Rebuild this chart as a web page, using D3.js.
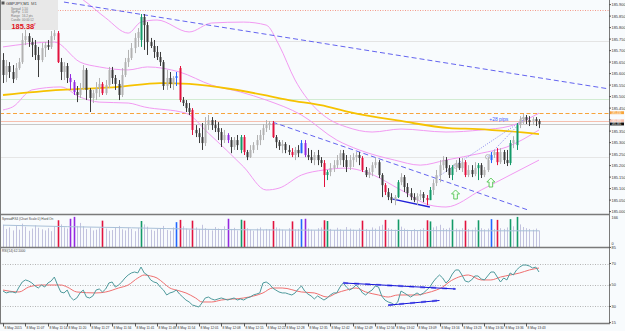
<!DOCTYPE html>
<html>
<head>
<meta charset="utf-8">
<script src="https://cdn.jsdelivr.net/npm/d3@7"></script>
<style>
  html, body { margin: 0; padding: 0; background: #f8fbfd; }
  svg { display: block; font-family: "Liberation Sans", Arial, sans-serif; }
</style>
</head>
<body>
<div id="chart"></div>
<script>
// GBPJPY M1, 8 May 2015
const open = [
  185.659,185.594,185.633,185.607,185.581,185.624,185.650,185.746,185.763,185.737,185.724,185.681,
  185.659,185.711,185.724,185.716,185.763,185.776,185.650,185.607,185.633,185.581,185.563,185.520,
  185.507,185.537,185.616,185.529,185.494,185.515,185.537,185.555,185.515,185.550,185.616,185.581,
  185.555,185.507,185.594,185.650,185.668,185.711,185.755,185.746,185.846,185.811,185.737,185.720,
  185.694,185.672,185.650,185.546,185.581,185.555,185.581,185.624,185.485,185.472,185.450,185.442,
  185.355,185.341,185.324,185.298,185.376,185.398,185.376,185.363,185.346,185.311,185.333,185.311,
  185.281,185.311,185.268,185.324,185.259,185.237,185.268,185.289,185.311,185.333,185.363,185.376,
  185.385,185.324,185.302,185.285,185.294,185.268,185.259,185.246,185.268,185.254,185.298,185.246,
  185.237,185.224,185.246,185.224,185.211,185.159,185.172,185.189,185.202,185.224,185.254,185.224,
  185.194,185.224,185.237,185.246,185.233,185.181,185.159,185.172,185.202,185.215,185.159,185.115,
  185.085,185.063,185.050,185.063,185.128,185.150,185.107,185.080,185.063,185.050,185.067,185.076,
  185.059,185.050,185.094,185.124,185.159,185.202,185.224,185.189,185.159,185.194,185.211,185.189,
  185.215,185.159,185.181,185.163,185.189,185.202,185.159,185.181,185.224,185.246,185.259,185.215,
  185.259,185.224,185.211,185.298,185.289,185.376,185.402,185.411,185.398,185.389,185.402,185.394
]
const high = [
  185.689,185.659,185.650,185.637,185.646,185.668,185.776,185.790,185.776,185.755,185.746,185.716,
  185.733,185.737,185.746,185.785,185.790,185.785,185.668,185.650,185.646,185.598,185.572,185.546,
  185.559,185.637,185.624,185.537,185.529,185.563,185.581,185.563,185.572,185.629,185.629,185.594,
  185.572,185.624,185.668,185.703,185.733,185.776,185.798,185.859,185.859,185.824,185.755,185.746,
  185.720,185.694,185.659,185.616,185.607,185.589,185.607,185.633,185.498,185.485,185.472,185.450,
  185.376,185.363,185.385,185.411,185.420,185.411,185.398,185.389,185.363,185.355,185.341,185.324,
  185.324,185.333,185.333,185.333,185.268,185.289,185.302,185.333,185.355,185.381,185.398,185.394,
  185.394,185.333,185.311,185.311,185.302,185.289,185.276,185.281,185.289,185.311,185.311,185.276,
  185.268,185.259,185.268,185.237,185.224,185.181,185.211,185.224,185.246,185.268,185.268,185.246,
  185.246,185.254,185.259,185.259,185.241,185.194,185.189,185.215,185.233,185.224,185.167,185.124,
  185.102,185.080,185.072,185.137,185.167,185.159,185.124,185.102,185.080,185.080,185.094,185.085,
  185.072,185.107,185.137,185.181,185.224,185.241,185.237,185.202,185.202,185.224,185.233,185.233,
  185.224,185.202,185.202,185.215,185.211,185.211,185.194,185.237,185.259,185.268,185.276,185.276,
  185.268,185.268,185.311,185.328,185.385,185.415,185.424,185.420,185.415,185.411,185.411,185.402
]
const low = [
  185.559,185.563,185.581,185.559,185.572,185.616,185.642,185.724,185.716,185.672,185.659,185.585,
  185.650,185.672,185.703,185.707,185.746,185.646,185.572,185.572,185.559,185.529,185.507,185.476,
  185.494,185.529,185.485,185.433,185.472,185.485,185.498,185.507,185.507,185.537,185.555,185.529,
  185.485,185.498,185.585,185.629,185.659,185.689,185.716,185.716,185.703,185.681,185.711,185.668,
  185.659,185.633,185.529,185.529,185.537,185.529,185.546,185.476,185.459,185.433,185.420,185.333,
  185.324,185.298,185.268,185.285,185.355,185.355,185.346,185.311,185.281,185.298,185.298,185.254,
  185.268,185.268,185.254,185.246,185.224,185.233,185.254,185.268,185.289,185.311,185.346,185.355,
  185.320,185.276,185.268,185.254,185.254,185.246,185.237,185.224,185.237,185.254,185.237,185.224,
  185.211,185.202,185.202,185.194,185.107,185.137,185.154,185.172,185.189,185.202,185.194,185.172,
  185.181,185.194,185.215,185.202,185.172,185.150,185.146,185.154,185.189,185.146,185.063,185.072,
  185.050,185.037,185.028,185.059,185.115,185.085,185.063,185.050,185.041,185.028,185.050,185.041,
  185.028,185.050,185.072,185.111,185.128,185.181,185.172,185.146,185.137,185.172,185.181,185.172,
  185.150,185.150,185.150,185.154,185.137,185.146,185.150,185.172,185.211,185.233,185.202,185.207,
  185.207,185.198,185.202,185.276,185.268,185.363,185.381,185.381,185.372,185.376,185.372,185.363
]
const close = [
  185.594,185.633,185.607,185.576,185.624,185.650,185.746,185.763,185.737,185.724,185.681,185.659,
  185.711,185.724,185.716,185.763,185.776,185.650,185.607,185.633,185.581,185.563,185.520,185.507,
  185.537,185.616,185.529,185.494,185.515,185.537,185.555,185.515,185.550,185.616,185.581,185.555,
  185.507,185.594,185.650,185.668,185.711,185.755,185.781,185.846,185.811,185.737,185.720,185.694,
  185.672,185.650,185.546,185.581,185.555,185.581,185.589,185.485,185.472,185.450,185.433,185.355,
  185.341,185.324,185.298,185.376,185.398,185.376,185.363,185.346,185.311,185.333,185.311,185.281,
  185.311,185.289,185.324,185.259,185.237,185.268,185.289,185.311,185.333,185.363,185.376,185.385,
  185.324,185.302,185.285,185.294,185.268,185.259,185.246,185.268,185.254,185.298,185.246,185.237,
  185.224,185.246,185.224,185.211,185.159,185.172,185.189,185.202,185.224,185.254,185.224,185.194,
  185.224,185.237,185.246,185.233,185.181,185.159,185.172,185.202,185.215,185.159,185.115,185.085,
  185.063,185.050,185.063,185.128,185.150,185.107,185.080,185.063,185.050,185.067,185.076,185.059,
  185.050,185.094,185.124,185.159,185.202,185.224,185.189,185.159,185.194,185.211,185.189,185.215,
  185.159,185.181,185.163,185.189,185.202,185.159,185.181,185.224,185.246,185.259,185.215,185.259,
  185.224,185.211,185.298,185.311,185.376,185.402,185.411,185.398,185.389,185.402,185.394,185.381
]
const volume = [
  118, 96,104, 88,112, 92,124,108, 86, 98,115,102,
   94, 88,100, 84,110,142,120,104, 98,150,160,112,
  128,110, 96,104, 88, 92,100,140, 98, 86, 90,106,
  112, 94, 88,102, 96, 84,100,138,120,108, 92, 86,
   96,100,112, 90, 86,104,132,144,110, 98, 92,140,
  104, 96,118,100, 92, 88,106, 98, 94,110,150, 96,
  102, 88,145,140,100, 92, 86, 98,104, 90, 96, 94,
  138,104, 98, 92, 88,100,136, 94, 96,148,150, 98,
   92, 88,100,104,142,138, 96, 90,102, 94, 88,106,
   98, 92, 86,100,140, 96, 90,104, 98,110,118,144,
  100, 96, 92,146,108, 98, 92, 90, 96, 88, 94,100,
  142,136,104,110,118,100, 96,102,146, 98, 92,100,
  140, 96, 92,104,142,100, 94, 98,148, 96,144,100,
   96,104,148,110,160,120,106,100, 96, 92, 98, 88
]
const rsi = [
  44.4,42.6,43.5,43.5,42.6,48.1,52.8,54.7,53.7,51.9,49.1,47.2,
  50.0,48.1,51.9,53.7,57.4,50.0,43.5,42.6,45.3,38.8,36.0,37.9,
  42.6,45.3,38.8,37.9,39.8,45.3,46.3,43.5,46.3,51.9,52.8,48.1,
  50.0,52.8,56.5,59.3,61.2,62.1,61.2,66.7,61.2,59.3,54.7,52.8,
  51.9,48.1,45.3,40.7,42.6,43.5,45.3,41.6,38.8,36.0,34.2,31.4,
  30.5,29.5,33.3,37.9,38.8,37.0,36.0,37.0,37.9,37.0,36.0,37.0,
  37.9,36.0,37.0,36.0,37.9,38.8,40.7,41.6,42.6,51.9,52.8,50.9,
  47.2,45.3,43.5,42.6,42.6,41.6,40.7,42.6,46.3,49.1,44.4,41.6,
  39.8,37.0,39.8,37.9,36.0,37.9,40.7,42.6,42.6,48.1,51.9,48.1,
  45.3,47.2,50.0,47.2,42.6,40.7,43.5,45.3,49.1,48.1,39.8,36.0,
  34.2,33.3,31.4,34.2,44.4,42.6,40.7,38.8,40.7,42.6,40.7,42.6,
  45.3,48.1,52.8,56.5,59.3,56.5,51.9,54.7,60.2,64.0,64.0,59.3,
  53.7,52.8,54.7,58.4,58.4,55.6,54.7,58.4,62.1,62.1,57.4,52.8,
  56.5,54.7,61.2,59.3,64.0,66.7,68.6,68.6,67.7,65.8,66.7,62.1
]
// [bar index, value] pairs for the smooth indicator lines
const rsiSignal = [[0,45.3],[5,43.5],[8,48.1],[12,50],[18,50],[20,48.1],[23,43.5],[29,42.6],[32,43.5],
  [36,47.2],[39,50],[42,56.5],[44,59.3],[46,58.4],[48,56.5],[50,51.9],[52,47.2],[54,45.3],[57,42.6],
  [60,37.9],[62,34.2],[65,34.2],[68,36],[75,37.9],[81,42.6],[84,47.2],[87,47.2],[93,43.5],[97,42.6],
  [101,38.8],[104,42.6],[107,45.3],[110,47.2],[113,43.5],[117,40.7],[120,38.8],[123,40.7],[129,40.7],
  [132,42.6],[135,45.3],[137,48.1],[139,52.8],[142,57.4],[145,59.3],[149,54.7],[152,54.7],[155,57.4],
  [158,59.3],[161,61.2],[164,64],[167,65.8]]
const volAvg = [[0,116],[20,108],[40,102],[62,94],[90,90],[120,88],[150,86],[167,86]]
const ma200 = [[0,185.507],[18,185.529],[36,185.542],[49,185.559],[58,185.555],[71,185.533],[83,185.502],
  [89,185.485],[99,185.463],[108,185.433],[124,185.394],[139,185.363],[148,185.359],[167,185.337]]
const bbUpper = [[12,186.007],[25,185.920],[32,185.842],[39,185.776],[43,185.824],[48,185.833],[58,185.781],
  [65,185.820],[75,185.824],[82,185.811],[86,185.724],[91,185.572],[97,185.455],[102,185.398],[107,185.368],
  [115,185.346],[124,185.359],[138,185.346],[149,185.355],[158,185.372],[167,185.428]]
const bbMiddle = [[0,185.716],[16,185.737],[24,185.650],[30,185.629],[39,185.616],[45,185.629],[55,185.607],
  [65,185.550],[74,185.520],[82,185.485],[93,185.420],[104,185.311],[111,185.268],[122,185.224],[130,185.202],
  [138,185.224],[149,185.254],[157,185.281],[167,185.355]]
const bbLower = [[0,185.442],[3,185.455],[9,185.529],[18,185.542],[24,185.498],[30,185.476],[39,185.472],
  [44,185.455],[57,185.428],[64,185.341],[75,185.194],[82,185.094],[86,185.102],[93,185.159],[100,185.181],
  [107,185.189],[113,185.172],[124,185.094],[133,185.028],[138,185.020],[149,185.094],[158,185.159],[167,185.224]]
// bars painted by the volume colouring
const markedBars = [[17,"red"],[21,"purple"],[22,"purple"],[31,"red"],[43,"green"],[54,"blue"],[55,"red"],
  [59,"red"],[70,"purple"],[74,"green"],[75,"red"],[84,"red"],[90,"red"],[93,"blue"],[94,"purple"],
  [100,"red"],[101,"green"],[112,"red"],[119,"red"],[123,"green"],[132,"red"],[133,"green"],[140,"green"],
  [144,"red"],[148,"green"],[152,"blue"],[154,"red"],[158,"green"],[160,"green"]]
// horizontal line objects
const hLevels = [
  {price: 185.877, color: "#f59a8a", dash: "1,1.5"},
  {price: 185.742, color: "#e4e4e4", dash: null},
  {price: 185.490, color: "#d2ecd2", dash: null},
  {price: 185.430, color: "#f7a43c", dash: "4,2.5"},
  {price: 185.395, color: "#f6bfae", dash: null},
  {price: 185.381, color: "#c8c8c8", dash: null},
  {price: 185.238, color: "#e6e6e6", dash: null}
]
const trendLines = [
  {from: [19, 185.911], to: [189, 185.533], color: "#6464f0", dash: "5,3", w: 1},
  {from: [84, 185.389], to: [164, 185.005], color: "#6464f0", dash: "5,3", w: 1},
  {from: [121.5, 185.054], to: [133, 185.020], color: "#2020d8", dash: null, w: 1.3},
  {from: [134, 185.137], to: [162, 185.398], color: "#8a8af0", dash: "1,1.5", w: 1},
  {from: [151, 185.238], to: [162, 185.398], color: "#8a8af0", dash: "1,1.5", w: 1}
]
const rsiLines = [
  {from: [106, 51.9], to: [141, 46.3]},
  {from: [120, 31.2], to: [136, 35.6]}
]
const upArrows = [[141, 185.094], [152, 185.146]]
const rings = [[141, 185.198], [151, 185.238], [162, 185.398]]
const priceTicks = d3.range(0, 19).map(k => 185.0 + k * 0.05)
const rsiTicks = [85, 70, 50, 30, 15]
const rsiLevels = [70, 50, 30]
const timeTicks = [0,7,14,20,27,34,41,48,54,61,68,75,82,88,95,102,109,116,122,129,136,143,150,156,163]
const timeLabels = ["8 May 2015","8 May 11:07","8 May 11:14","8 May 11:20","8 May 11:27","8 May 11:34",
  "8 May 11:41","8 May 11:48","8 May 11:54","8 May 12:01","8 May 12:08","8 May 12:15","8 May 12:22",
  "8 May 12:28","8 May 12:35","8 May 12:42","8 May 12:49","8 May 12:56","8 May 13:02","8 May 13:09",
  "8 May 13:16","8 May 13:23","8 May 13:30","8 May 13:36","8 May 13:43"]

const N = close.length
const plotR = 609
const main = {top: 0, bottom: 214}
const vol = {top: 215, bottom: 247}
const osc = {top: 248, bottom: 323}
const palette = {red: "#e2123e", green: "#139a68", blue: "#2266ff", purple: "#9428e0"}
const tag = {}
markedBars.forEach(d => tag[d[0]] = palette[d[1]])

const svg = d3.select("#chart").append("svg")
    .attr("width", 625)
    .attr("height", 331)

svg.append("rect").attr("width", 625).attr("height", 331).attr("fill", "#f8fbfd")

const x = d3.scaleLinear().domain([0, N - 1]).range([3, 539])
const y = d3.scaleLinear().domain([185.92 - 214 / 230, 185.92]).range([main.bottom, main.top])
const yv = d3.scaleLinear().domain([0, 170]).range([vol.bottom, vol.top])
const yr = d3.scaleLinear().domain([15, 85]).range([322.6, 247.4])

const defs = svg.append("defs")
function clip(id, top, bottom) {
  defs.append("clipPath").attr("id", id)
    .append("rect").attr("x", 0).attr("y", top).attr("width", plotR).attr("height", bottom - top)
  return svg.append("g").attr("clip-path", `url(#${id})`)
}
const gMain = clip("cMain", main.top, main.bottom)
const gVol = clip("cVol", vol.top, vol.bottom)
const gOsc = clip("cOsc", osc.top, osc.bottom)

// horizontal level lines
gMain.selectAll(".lvl").data(hLevels).join("line")
  .attr("x1", 0).attr("x2", plotR)
  .attr("y1", d => Math.round(y(d.price)) + 0.5).attr("y2", d => Math.round(y(d.price)) + 0.5)
  .attr("stroke", d => d.color).attr("stroke-dasharray", d => d.dash)

// bollinger bands and 200 MA
const smooth = (sy) => d3.line().x(d => x(d[0])).y(d => sy(d[1])).curve(d3.curveMonotoneX)
;[bbUpper, bbMiddle, bbLower].forEach(band => {
  gMain.append("path").attr("d", smooth(y)(band))
    .attr("fill", "none").attr("stroke", "#f29af2").attr("stroke-width", 1)
})
gMain.append("path").attr("d", smooth(y)(ma200))
  .attr("fill", "none").attr("stroke", "#f6c200").attr("stroke-width", 1.8)

// trend lines
gMain.selectAll(".tl").data(trendLines).join("line")
  .attr("x1", d => x(d.from[0])).attr("y1", d => y(d.from[1]))
  .attr("x2", d => x(d.to[0])).attr("y2", d => y(d.to[1]))
  .attr("stroke", d => d.color).attr("stroke-width", d => d.w)
  .attr("stroke-dasharray", d => d.dash)

// candles
const idx = d3.range(N)
const colorOf = i => tag[i] || (close[i] >= open[i] ? "#b2b2b2" : "#3c3c3c")
gMain.selectAll(".wick").data(idx).join("line")
  .attr("x1", i => Math.round(x(i)) + 0.5).attr("x2", i => Math.round(x(i)) + 0.5)
  .attr("y1", i => y(high[i])).attr("y2", i => y(low[i]))
  .attr("stroke", colorOf).attr("stroke-width", 1)
gMain.selectAll(".body").data(idx).join("rect")
  .attr("x", i => Math.round(x(i)) - 0.5)
  .attr("width", 2)
  .attr("y", i => y(Math.max(open[i], close[i])))
  .attr("height", i => Math.max(1, Math.abs(y(open[i]) - y(close[i]))))
  .attr("fill", colorOf)

// annotations
gMain.selectAll(".ring").data(rings).join("circle")
  .attr("cx", d => x(d[0])).attr("cy", d => y(d[1])).attr("r", 2.2)
  .attr("fill", "none").attr("stroke", "#b8b8b8").attr("stroke-width", 1)
gMain.selectAll(".arrow").data(upArrows).join("path")
  .attr("transform", d => `translate(${x(d[0])},${y(d[1])})`)
  .attr("d", "M0,0 L4,4 L1.8,4 L1.8,9 L-1.8,9 L-1.8,4 L-4,4 Z")
  .attr("fill", "#f4fff4").attr("stroke", "#52c452").attr("stroke-width", 0.9)
gMain.append("text").attr("x", x(151.5)).attr("y", y(185.393))
  .attr("font-size", 5).attr("fill", "#3f5cff").text("+28 pips")

// info box
const info = svg.append("g")
info.append("rect").attr("x", 0).attr("y", 0).attr("width", 58).attr("height", 30).attr("fill", "#e8e8e8")
info.append("rect").attr("x", 1.5).attr("y", 1.5).attr("width", 3).attr("height", 3).attr("fill", "#555")
info.append("text").attr("x", 6).attr("y", 5).attr("font-size", 4.2).attr("fill", "#333").text("GBPJPY,M1")
info.append("text").attr("x", 31).attr("y", 5).attr("font-size", 4.2).attr("fill", "#555").text("M1")
const infoRows = [["Spread", "1.50"], ["SprPip", "1.50"], ["Range", "16.2 pts"], ["Candle", "00:00:12"]]
infoRows.forEach((r, k) => {
  info.append("text").attr("x", 11).attr("y", 9.5 + k * 3.8).attr("font-size", 3).attr("fill", "#777").text(r[0])
  info.append("text").attr("x", 22).attr("y", 9.5 + k * 3.8).attr("font-size", 3).attr("fill", "#777").text(r[1])
})
info.append("text").attr("x", 11.5).attr("y", 28.5).attr("font-size", 7.4).attr("font-weight", "bold")
  .attr("fill", "#e01020").text(d3.format(".2f")(Math.floor(close[N - 1] * 100) / 100))
info.append("text").attr("x", 33.5).attr("y", 25.5).attr("font-size", 4).attr("fill", "#e01020").text("7")

// volume panel
gVol.selectAll(".vb").data(idx).join("line")
  .attr("x1", i => Math.round(x(i)) + 0.5).attr("x2", i => Math.round(x(i)) + 0.5)
  .attr("y1", yv(0)).attr("y2", i => yv(volume[i]))
  .attr("stroke", i => tag[i] || "#c2c2de").attr("stroke-width", i => tag[i] ? 1.6 : 1)
gVol.append("path").attr("d", smooth(yv)(volAvg))
  .attr("fill", "none").attr("stroke", "#a9c0d8").attr("stroke-width", 1)
svg.append("text").attr("x", 2).attr("y", 219.5).attr("font-size", 3.2).attr("fill", "#444")
  .text("SpreadFX4 (Chart Scale 0)   Hard On")

// RSI panel
gOsc.selectAll(".rl").data(rsiLevels).join("line")
  .attr("x1", 0).attr("x2", plotR)
  .attr("y1", d => Math.round(yr(d)) + 0.5).attr("y2", d => Math.round(yr(d)) + 0.5)
  .attr("stroke", "#b4b4b4").attr("stroke-dasharray", "1,1.5")
gOsc.append("path").attr("d", smooth(yr)(rsiSignal))
  .attr("fill", "none").attr("stroke", "#f07070").attr("stroke-width", 1)
gOsc.append("path")
  .attr("d", d3.line().x(i => x(i)).y(i => yr(rsi[i]))(idx))
  .attr("fill", "none").attr("stroke", "#4f9a9c").attr("stroke-width", 1)
rsiLines.forEach(l => {
  gOsc.append("line").attr("x1", x(l.from[0])).attr("y1", yr(l.from[1]))
    .attr("x2", x(l.to[0])).attr("y2", yr(l.to[1]))
    .attr("stroke", "#8c8cf4").attr("stroke-width", 2.2).attr("stroke-dasharray", "5,6")
  gOsc.append("line").attr("x1", x(l.from[0])).attr("y1", yr(l.from[1]))
    .attr("x2", x(l.to[0])).attr("y2", yr(l.to[1]))
    .attr("stroke", "#1616d8").attr("stroke-width", 1)
})
svg.append("text").attr("x", 2).attr("y", 252).attr("font-size", 3.2).attr("fill", "#444")
  .text("RSI(14) " + rsi[N - 1].toFixed(4))

// frame
const frame = svg.append("g").attr("stroke", "#7a7a7a").attr("fill", "none")
frame.append("line").attr("x1", plotR + 0.5).attr("x2", plotR + 0.5).attr("y1", 0).attr("y2", 324)
frame.append("line").attr("x1", 0.5).attr("x2", 0.5).attr("y1", 0).attr("y2", 324)
;[main.bottom + 0.5, vol.bottom + 0.5, osc.bottom + 0.5].forEach(v => {
  frame.append("line").attr("x1", 0).attr("x2", plotR + 1).attr("y1", v).attr("y2", v)
    .attr("stroke-width", 1.4)
})

// right price axis; tick labels hidden where a level tag sits on top of them
const tags = [
  {price: 185.430, bg: "#f7a43c", fg: "#fff"},
  {price: 185.395, bg: "#f6bfae", fg: "#fff"},
  {price: close[N - 1], bg: "#111", fg: "#fff"}
]
const axisG = svg.append("g").attr("font-size", 3.9).attr("fill", "#333")
priceTicks.forEach(p => {
  const yy = y(p)
  if (yy < 2 || yy > main.bottom - 1) return
  axisG.append("line").attr("x1", plotR).attr("x2", plotR + 2).attr("y1", yy).attr("y2", yy).attr("stroke", "#555")
  if (tags.some(t => Math.abs(y(t.price) - yy) < 4)) return
  axisG.append("text").attr("x", 611.5).attr("y", yy + 1.4).text(p.toFixed(3))
})
tags.forEach(t => {
  axisG.append("rect").attr("x", plotR + 1).attr("y", y(t.price) - 1.45).attr("width", 14).attr("height", 2.9).attr("fill", t.bg)
  axisG.append("text").attr("x", 611.5).attr("y", y(t.price) + 1.0).attr("font-size", 2.7)
    .attr("fill", t.fg).text(t.price.toFixed(3))
})
axisG.append("text").attr("x", 611.5).attr("y", 219).text("166")
axisG.append("text").attr("x", 611.5).attr("y", 245).text("0")
rsiTicks.forEach(v => {
  axisG.append("line").attr("x1", plotR).attr("x2", plotR + 2).attr("y1", yr(v)).attr("y2", yr(v)).attr("stroke", "#555")
  axisG.append("text").attr("x", 611.5).attr("y", yr(v) + 1.4).text(v)
})

// time axis
const tAxis = svg.append("g").attr("font-size", 3.3).attr("fill", "#333")
timeTicks.forEach((t, k) => {
  const xx = Math.round(x(t)) + 0.5
  tAxis.append("line").attr("x1", xx).attr("x2", xx).attr("y1", 323).attr("y2", 326.5).attr("stroke", "#555")
  tAxis.append("text").attr("x", xx + 1).attr("y", 328.8).text(timeLabels[k])
})
</script>
</body>
</html>
